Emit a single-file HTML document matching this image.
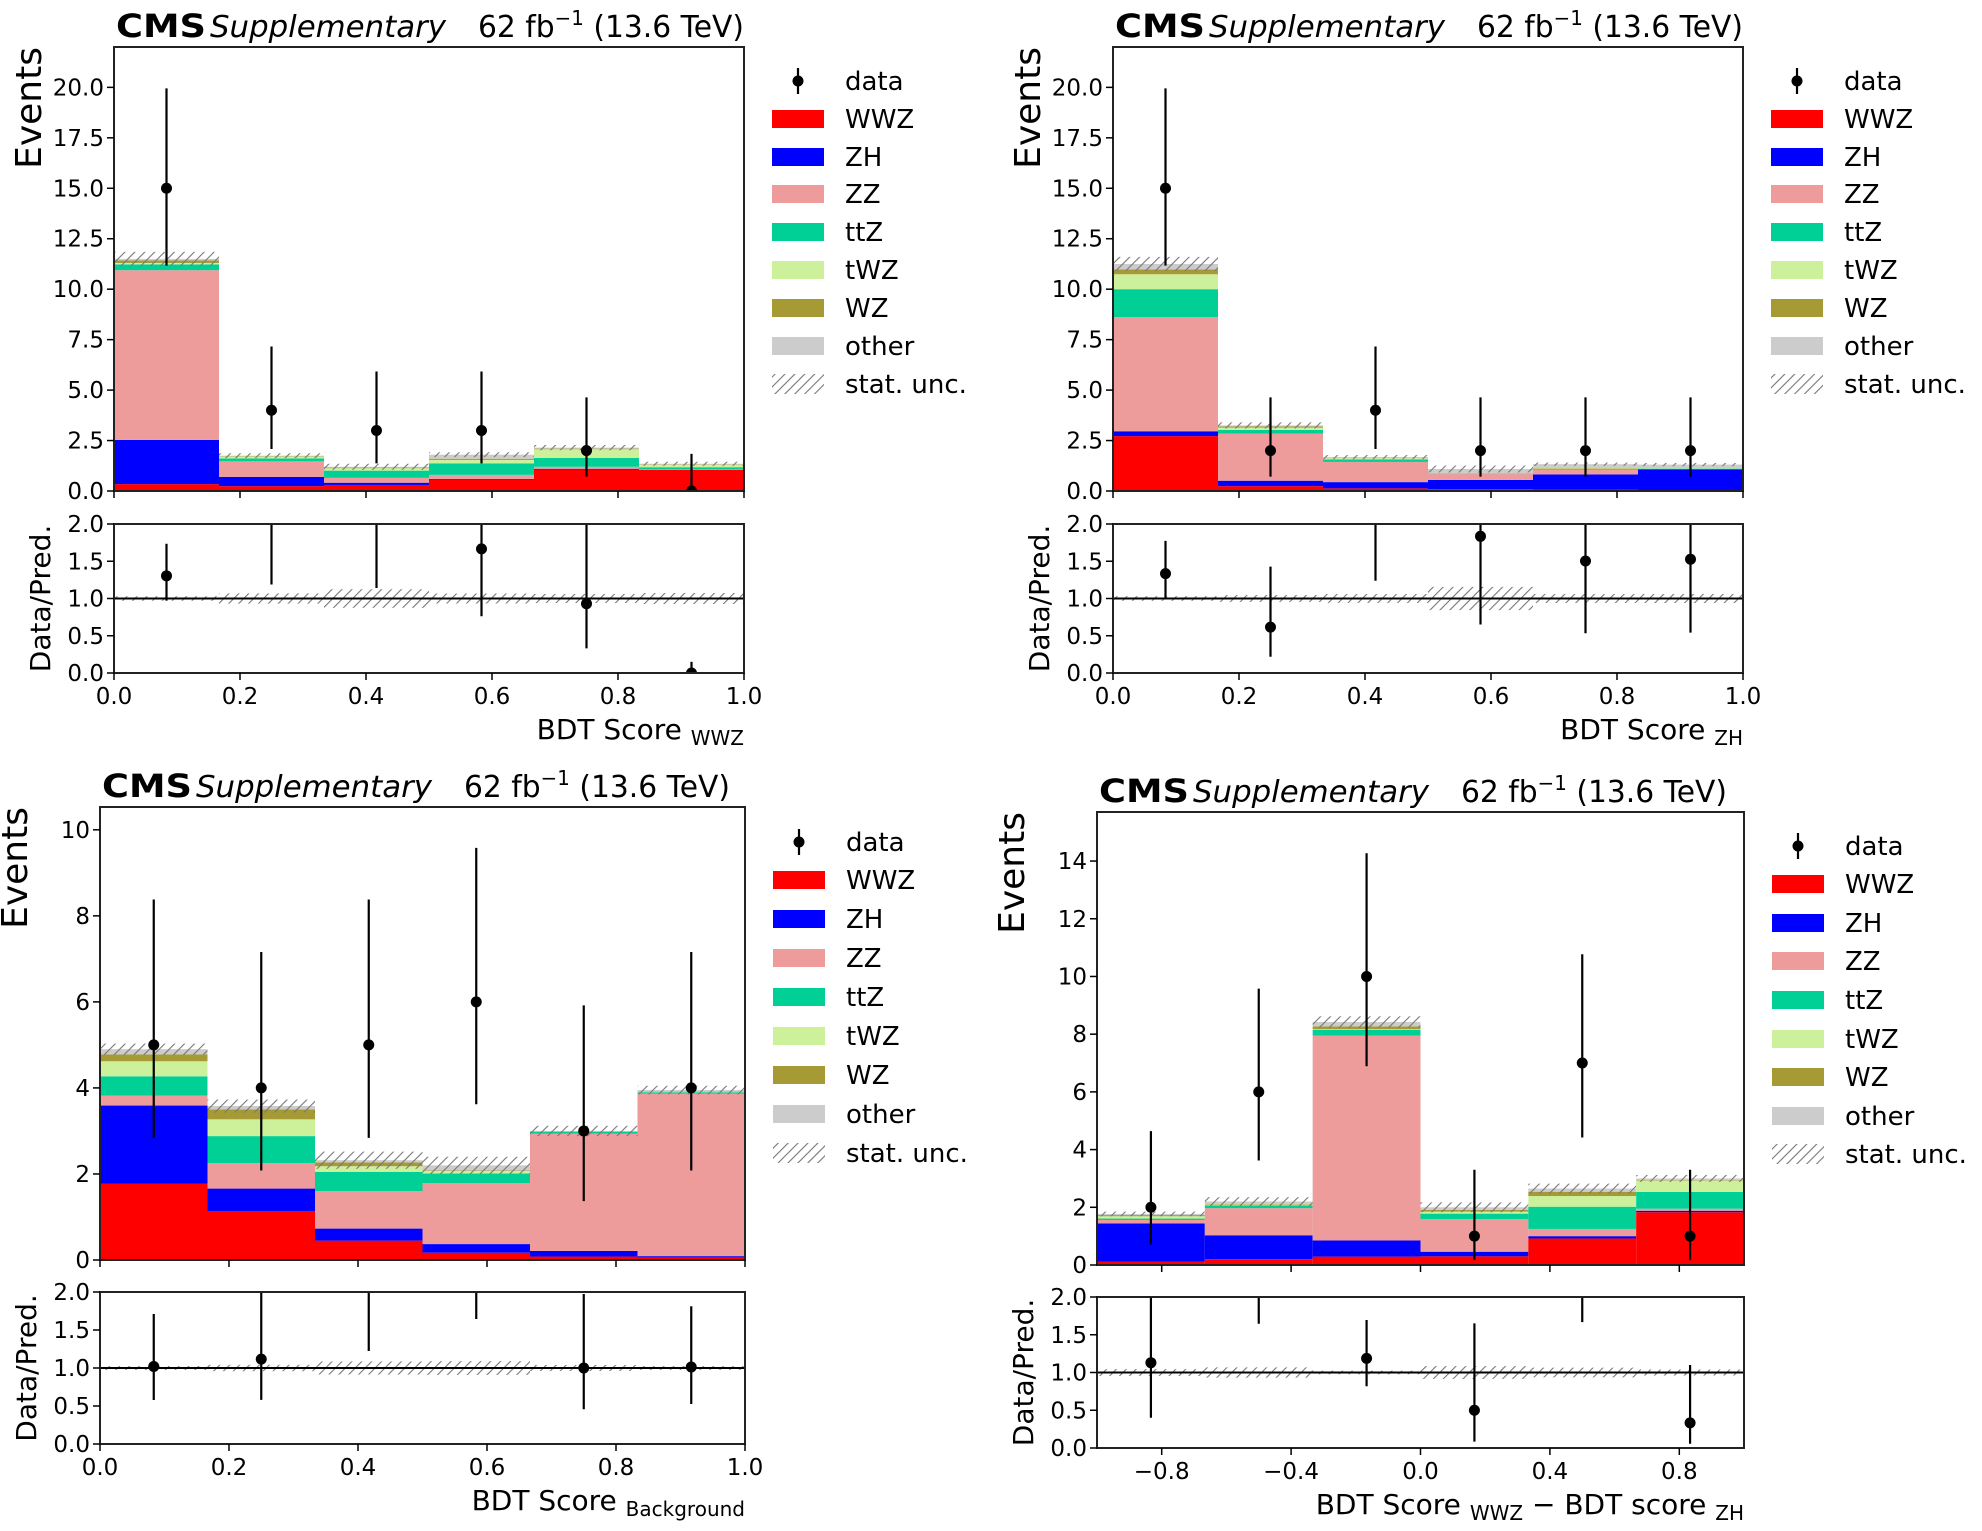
<!DOCTYPE html>
<html><head><meta charset="utf-8"><style>
html,body{margin:0;padding:0;background:#fff;}
svg{display:block;font-family:"DejaVu Sans","Liberation Sans",sans-serif;}
</style></head><body>
<svg id="fig" width="1982" height="1531" viewBox="0 0 1982 1531" xmlns="http://www.w3.org/2000/svg">
<defs>
<pattern id="hatch" patternUnits="userSpaceOnUse" width="7" height="7" patternTransform="rotate(45)">
<line x1="0" y1="0" x2="0" y2="7" stroke="#777" stroke-width="2.2"/>
</pattern>
</defs>
</svg>
<script>
// ---------- data: top-left (BDT Score WWZ) ----------
const tlWWZ=[0.34,0.24,0.30,0.56,1.06,1.04];
const tlZH=[2.19,0.46,0.11,0.04,0.04,0.01];
const tlZZ=[8.41,0.77,0.24,0.20,0.10,0.02];
const tlTTZ=[0.29,0.14,0.36,0.57,0.44,0.11];
const tlTWZ=[0.07,0.10,0.12,0.17,0.43,0.12];
const tlWZ=[0.12,0.02,0.03,0.06,0.03,0.02];
const tlOther=[0.08,0.02,0.04,0.20,0.05,0.03];
const tlUnc=[0.35,0.12,0.15,0.12,0.13,0.10];
const tlData=[15,4,3,3,2,0];
const tlLo=[11.17,2.08,1.37,1.37,0.71,0];
const tlHi=[19.95,7.16,5.92,5.92,4.64,1.84];
// ---------- data: top-right (BDT Score ZH) ----------
const trWWZ=[2.72,0.24,0.13,0.09,0.06,0.05];
const trZH=[0.24,0.27,0.31,0.46,0.76,1.03];
const trZZ=[5.66,2.34,1.00,0.29,0.24,0.02];
const trTTZ=[1.38,0.18,0.13,0.02,0.03,0.02];
const trTWZ=[0.74,0.11,0.06,0.02,0.03,0.02];
const trWZ=[0.24,0.06,0.02,0.02,0.03,0.01];
const trOther=[0.27,0.05,0.03,0.19,0.18,0.16];
const trUnc=[0.35,0.15,0.10,0.17,0.08,0.08];
const trData=[15,2,4,2,2,2];
const trLo=[11.17,0.71,2.08,0.71,0.71,0.71];
const trHi=[19.95,4.64,7.16,4.64,4.64,4.64];
// ---------- data: bottom-left (BDT Score Background) ----------
const blWWZ=[1.77,1.14,0.45,0.17,0.08,0.06];
const blZH=[1.82,0.52,0.28,0.20,0.13,0.03];
const blZZ=[0.23,0.59,0.87,1.42,2.73,3.78];
const blTTZ=[0.45,0.63,0.45,0.22,0.04,0.03];
const blTWZ=[0.35,0.39,0.13,0.06,0.01,0.01];
const blWZ=[0.16,0.23,0.09,0.01,0.01,0.01];
const blOther=[0.12,0.08,0.05,0.12,0.00,0.03];
const blUnc=[0.13,0.15,0.20,0.20,0.12,0.10];
const blData=[5,4,5,6,3,4];
const blLo=[2.84,2.08,2.84,3.62,1.37,2.08];
const blHi=[8.38,7.16,8.38,9.58,5.92,7.16];
// ---------- data: bottom-right (BDT WWZ - BDT ZH) ----------
const brWWZ=[0.12,0.20,0.29,0.30,0.92,1.83];
const brZH=[1.32,0.83,0.56,0.16,0.08,0.05];
const brZZ=[0.12,0.94,7.10,1.13,0.25,0.07];
const brTTZ=[0.05,0.10,0.20,0.19,0.77,0.58];
const brTWZ=[0.08,0.03,0.02,0.07,0.37,0.39];
const brWZ=[0.04,0.02,0.10,0.06,0.15,0.02];
const brOther=[0.04,0.08,0.15,0.09,0.11,0.06];
const brUnc=[0.08,0.15,0.20,0.17,0.17,0.12];
const brData=[2,6,10,1,7,1];
const brLo=[0.71,3.62,6.89,0.17,4.42,0.17];
const brHi=[4.64,9.58,14.27,3.30,10.77,3.30];
// ---------- ticks ----------
const ticks22=[0,2.5,5,7.5,10,12.5,15,17.5,20];
const ticksBL=[0,2,4,6,8,10];
const ticksBR=[0,2,4,6,8,10,12,14];
const ratioTicks=[0,0.5,1,1.5,2];
const xTicks01=[0,0.2,0.4,0.6,0.8,1.0];
const xTicksDiff=[-0.8,-0.4,0,0.4,0.8];
const procNames=["WWZ","ZH","ZZ","ttZ","tWZ","WZ","other"];
const procColors=["#ff0000","#0000ff","#ee9b9b","#00d096","#cdf09b","#a59a33","#cccccc"];

const NS="http://www.w3.org/2000/svg";
const svg=document.getElementById('fig');
function mk(tag,attrs,parent){const e=document.createElementNS(NS,tag);for(const k in attrs)e.setAttribute(k,attrs[k]);(parent||svg).appendChild(e);return e;}

let clipId=0;
function drawPanel(P){
  const g=mk('g',{});
  
  
  const X=v=>P.x0+(v-P.xmin)/(P.xmax-P.xmin)*(P.x1-P.x0);
  const Y=v=>P.y1-v/P.ymax*(P.y1-P.y0);
  const R=v=>P.r1-v/2*(P.r1-P.r0);
  const nb=P.data.length;
  const edge=i=>P.xmin+i*(P.xmax-P.xmin)/nb;
  const cid='c'+(clipId++), rid='c'+(clipId++);
  const cp=mk('clipPath',{id:cid},g);mk('rect',{x:P.x0,y:P.y0,width:P.x1-P.x0,height:P.y1-P.y0},cp);
  const rp=mk('clipPath',{id:rid},g);mk('rect',{x:P.x0,y:P.r0-1,width:P.x1-P.x0,height:P.r1-P.r0+2},rp);
  const main=mk('g',{'clip-path':'url(#'+cid+')'},g);
  const ratio=mk('g',{'clip-path':'url(#'+rid+')'},g);
  const totals=[];
  for(let i=0;i<nb;i++){
    let cum=0;
    for(let p=0;p<P.procs.length;p++){
      const h=P.procs[p][i];
      if(h>0){
        const r=mk('rect',{x:X(edge(i)),y:Y(cum+h),width:X(edge(i+1))-X(edge(i)),height:Y(cum)-Y(cum+h),fill:procColors[p]},main);
        
        
      }
      cum+=h;
    }
    totals.push(cum);
    const u=P.unc[i];
    const hr=mk('rect',{x:X(edge(i)),y:Y(cum+u),width:X(edge(i+1))-X(edge(i)),height:Y(cum-u)-Y(cum+u),fill:'url(#hatch)'},main);
    
    
    const rb=mk('rect',{x:X(edge(i)),y:R(1+u/cum),width:X(edge(i+1))-X(edge(i)),height:R(1-u/cum)-R(1+u/cum),fill:'url(#hatch)'},ratio);
    
    
  }
  const one=mk('line',{x1:P.x0,x2:P.x1,y1:R(1),y2:R(1),stroke:'#000','stroke-width':2},ratio);
  
  
  for(let i=0;i<nb;i++){
    const cx=X((edge(i)+edge(i+1))/2);
    const el=mk('line',{x1:cx,x2:cx,y1:Y(P.lo[i]),y2:Y(P.hi[i]),stroke:'#000','stroke-width':2.2},main);
    
    
    const pt=mk('circle',{cx:cx,cy:Y(P.data[i]),r:5.5,fill:'#000'},main);
    
    
    const t=totals[i];
    const rhi=P.data[i]>0?P.hi[i]/t:0.15;
    const rl=mk('line',{x1:cx,x2:cx,y1:R(P.lo[i]/t),y2:R(rhi),stroke:'#000','stroke-width':2.2},ratio);
    
    
    const rpnt=mk('circle',{cx:cx,cy:R(P.data[i]/t),r:5.5,fill:'#000'},ratio);
    
    
  }
  const f1=mk('rect',{x:P.x0,y:P.y0,width:P.x1-P.x0,height:P.y1-P.y0,fill:'none',stroke:'#222','stroke-width':2},g);
  
  
  const f2=mk('rect',{x:P.x0,y:P.r0,width:P.x1-P.x0,height:P.r1-P.r0,fill:'none',stroke:'#222','stroke-width':2},g);
  
  
  P.yticks.forEach(v=>{
    mk('line',{x1:P.x0-7,x2:P.x0,y1:Y(v),y2:Y(v),stroke:'#000','stroke-width':1.5},g);
    const t=mk('text',{x:P.x0-10,y:Y(v)+8,'text-anchor':'end','font-size':23},g);
    t.textContent=P.yfmt(v);
    
    
  });
  ratioTicks.forEach(v=>{
    mk('line',{x1:P.x0-7,x2:P.x0,y1:R(v),y2:R(v),stroke:'#000','stroke-width':1.5},g);
    const t=mk('text',{x:P.x0-10,y:R(v)+8,'text-anchor':'end','font-size':23},g);
    t.textContent=v.toFixed(1);
    
    
  });
  P.xticks.forEach(v=>{
    mk('line',{x1:X(v),x2:X(v),y1:P.y1,y2:P.y1+7,stroke:'#000','stroke-width':1.5},g);
    mk('line',{x1:X(v),x2:X(v),y1:P.r1,y2:P.r1+7,stroke:'#000','stroke-width':1.5},g);
    const t=mk('text',{x:X(v),y:P.r1+31,'text-anchor':'middle','font-size':23},g);
    t.textContent=(v<0?'\u2212':'')+Math.abs(v).toFixed(1);
    
    
  });
  const ev=mk('text',{x:0,y:0,'text-anchor':'end','font-size':36,transform:`translate(${P.x0-73},${P.y0}) rotate(-90)`},g);
  ev.textContent='Events';
  
  
  const dp=mk('text',{x:0,y:0,'text-anchor':'middle','font-size':28,transform:`translate(${P.x0-64},${(P.r0+P.r1)/2}) rotate(-90)`},g);
  dp.textContent='Data/Pred.';
  
  
  const xl=mk('text',{x:P.x1,y:P.r1+66,'text-anchor':'end','font-size':28},g);
  
  
  P.xlabel.forEach(part=>{const s=mk('tspan',{},xl);if(part[1]){s.setAttribute('font-size',20);s.setAttribute('dy',6);}else{s.setAttribute('dy',part[2]||0);}s.textContent=part[0];});
  const cms=mk('text',{x:P.x0+2,y:P.y0-10,'font-size':32,'font-weight':'bold',textLength:90,lengthAdjust:'spacingAndGlyphs'},g);
  cms.textContent='CMS';
  
  
  const sup=mk('text',{x:P.x0+96,y:P.y0-10,'font-size':30,'font-style':'italic',textLength:236,lengthAdjust:'spacingAndGlyphs'},g);
  sup.textContent='Supplementary';
  
  
  const lum=mk('text',{x:P.x0+364,y:P.y0-10,'font-size':30,textLength:266,lengthAdjust:'spacingAndGlyphs'},g);
  
  
  const a=mk('tspan',{},lum);a.textContent='62 fb';
  const b=mk('tspan',{dy:-12,'font-size':20},lum);b.textContent='\u22121';
  const c=mk('tspan',{dy:12},lum);c.textContent=' (13.6 TeV)';
  const L=mk('g',{},g);
  
  
  const lx=P.x1+28, rows=P.legRows;
  mk('line',{x1:lx+26,x2:lx+26,y1:rows[0]-13,y2:rows[0]+13,stroke:'#000','stroke-width':2.2},L);
  mk('circle',{cx:lx+26,cy:rows[0],r:5.5,fill:'#000'},L);
  const labels=['data'].concat(procNames).concat(['stat. unc.']);
  labels.forEach((lab,k)=>{
    if(k>=1&&k<=7){mk('rect',{x:lx,y:rows[k]-9,width:52,height:18,fill:procColors[k-1]},L);}
    if(k===8){mk('rect',{x:lx,y:rows[k]-10,width:52,height:20,fill:'url(#hatch)'},L);}
    const t=mk('text',{x:lx+73,y:rows[k]+9,'font-size':26},L);
    t.textContent=lab;
    
    
  });
}
const rowsTop=[81,119,157,194,232,270,308,346,384];
drawPanel({name:'panel-bdt-wwz',x0:114,x1:744,y0:47,y1:491,r0:524,r1:673,xmin:0,xmax:1,ymax:22,
  procs:[tlWWZ,tlZH,tlZZ,tlTTZ,tlTWZ,tlWZ,tlOther],unc:tlUnc,data:tlData,lo:tlLo,hi:tlHi,
  yticks:ticks22,yfmt:v=>v.toFixed(1),xticks:xTicks01,xlabel:[['BDT Score '],['WWZ',1]],legRows:rowsTop});
drawPanel({name:'panel-bdt-zh',x0:1113,x1:1743,y0:47,y1:491,r0:524,r1:673,xmin:0,xmax:1,ymax:22,
  procs:[trWWZ,trZH,trZZ,trTTZ,trTWZ,trWZ,trOther],unc:trUnc,data:trData,lo:trLo,hi:trHi,
  yticks:ticks22,yfmt:v=>v.toFixed(1),xticks:xTicks01,xlabel:[['BDT Score '],['ZH',1]],legRows:rowsTop});
drawPanel({name:'panel-bdt-background',x0:100,x1:745,y0:807,y1:1260,r0:1292,r1:1444,xmin:0,xmax:1,ymax:10.53,
  procs:[blWWZ,blZH,blZZ,blTTZ,blTWZ,blWZ,blOther],unc:blUnc,data:blData,lo:blLo,hi:blHi,
  yticks:ticksBL,yfmt:v=>String(v),xticks:xTicks01,xlabel:[['BDT Score '],['Background',1]],legRows:[842,880,919,958,997,1036,1075,1114,1153]});
drawPanel({name:'panel-bdt-difference',x0:1097,x1:1744,y0:812,y1:1265,r0:1297,r1:1448,xmin:-1,xmax:1,ymax:15.7,
  procs:[brWWZ,brZH,brZZ,brTTZ,brTWZ,brWZ,brOther],unc:brUnc,data:brData,lo:brLo,hi:brHi,
  yticks:ticksBR,yfmt:v=>String(v),xticks:xTicksDiff,xlabel:[['BDT Score '],['WWZ',1],[' \u2212 BDT score ',0,-6],['ZH',1]],legRows:[846,884,923,961,1000,1039,1077,1116,1154]});
</script>
</body></html>
